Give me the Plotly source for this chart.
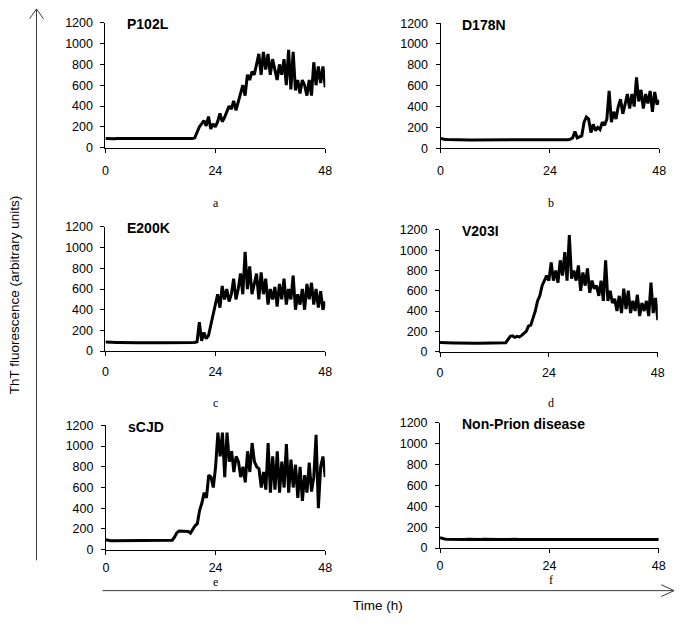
import plotly.graph_objects as go

# ---------------- data (ThT fluorescence, arbitrary units; sampled every 0.5 h, 0..48 h) ----------------
TIME_H = [i * 0.5 for i in range(97)]

P102L = [90, 88, 89, 88, 87, 88, 88, 87, 88, 87, 87, 88, 87, 86, 87, 87, 86, 87, 88, 87,
         86, 86, 87, 86, 86, 87, 86, 86, 85, 86, 86, 85, 86, 86, 85, 86, 85, 86, 88, 95,
         150, 200, 230, 260, 210, 300, 180, 230, 200, 250,
         330, 250, 290, 340, 400, 370, 450, 360, 430, 520,
         600, 500, 700, 650, 730, 700, 800, 900, 700, 920,
         750, 900, 700, 850, 750, 650, 800, 700, 850, 600,
         940, 560, 920, 550, 650, 520, 650, 600, 500, 650,
         500, 820, 600, 780, 620, 780, 580]

D178N = [95, 88, 85, 84, 83, 83, 82, 82, 82, 81, 81, 81, 80, 80, 80, 80, 80, 80, 79, 79,
         79, 79, 79, 79, 79, 78, 78, 78, 78, 78, 78, 78, 78, 78, 78, 78, 78, 78, 78, 78,
         78, 78, 78, 78, 78, 78, 78, 78, 78, 78, 78, 78, 78, 78, 79, 80, 82, 88,
         100, 160, 100, 110, 120, 250, 300, 280, 150, 230,
         170, 200, 180, 250, 220, 280, 550, 250, 350, 280,
         400, 470, 330, 420, 520, 380, 520, 400, 680, 450,
         560, 380, 520, 430, 550, 350, 540, 420, 460]

E200K = [88, 86, 85, 85, 84, 84, 84, 83, 83, 83, 83, 82, 82, 82, 82, 82, 81, 81, 81, 81,
         81, 80, 80, 80, 80, 80, 80, 80, 80, 80, 80, 80, 80, 80, 80, 80, 80, 81, 82, 84, 90,
         280, 100, 180, 120, 150, 250, 350, 450, 550, 420,
         630, 500, 600, 480, 550, 700, 500, 600, 750, 550,
         960, 600, 820, 550, 650, 750, 500, 760, 550, 700,
         450, 600, 500, 620, 430, 650, 500, 700, 450, 600,
         500, 730, 400, 550, 450, 600, 400, 650, 500, 660,
         450, 600, 420, 580, 400, 480]

V203I = [90, 88, 87, 86, 86, 85, 85, 85, 84, 84, 84, 84, 84, 83, 83, 83, 83, 83, 83, 83,
         83, 83, 82, 82, 82, 82, 83, 83, 84, 88,
         120, 150, 155, 140, 150, 145, 160, 180, 200, 250,
         260, 330, 400, 500, 550, 650, 700, 750, 700, 880,
         700, 800, 680, 900, 750, 980, 700, 1150, 720, 800,
         700, 850, 600, 780, 650, 820, 580, 700, 620, 650,
         550, 700, 500, 900, 500, 600, 480, 520, 400, 550,
         380, 620, 420, 600, 380, 500, 400, 560, 350, 480,
         400, 500, 350, 680, 380, 530, 310]

SCJD = [95, 88, 86, 85, 85, 85, 84, 84, 84, 84, 84, 84, 84, 84, 84, 84, 84, 84, 84, 84,
        84, 84, 84, 84, 84, 84, 84, 85, 86, 90,
        120, 160, 180, 180, 182, 178, 175, 160, 200, 230,
        250, 380, 450, 550, 500, 720, 700, 600, 800, 1130,
        900, 1130, 700, 1130, 850, 950, 750, 900, 850, 700,
        800, 650, 950, 750, 1030, 850, 800, 780, 600, 750,
        580, 1030, 550, 900, 580, 950, 550, 850, 600, 1020,
        550, 870, 600, 820, 500, 800, 470, 720, 550, 840,
        560, 700, 1110, 400, 800, 900, 700]

NON_PRION = [100, 92, 88, 86, 85, 85, 84, 84, 84, 84, 84, 83, 84, 83, 83, 84, 83, 83, 83, 84,
             83, 83, 83, 84, 83, 83, 83, 83, 84, 83, 83, 83, 83, 84, 83, 83, 83, 83, 83, 84,
             83, 83, 83, 83, 84, 83, 83, 83, 82, 83, 83, 83, 84, 83, 83, 82, 83, 83, 83, 83,
             83, 82, 83, 83, 83, 82, 83, 83, 82, 83, 83, 82, 83, 82, 83, 83, 82, 82, 83, 82,
             82, 83, 82, 82, 82, 83, 82, 82, 82, 82, 83, 82, 82, 82, 82, 82, 82]

PANEL_TITLES = ["P102L", "D178N", "E200K", "V203I", "sCJD", "Non-Prion disease"]
PANEL_LETTERS = ["a", "b", "c", "d", "e", "f"]
SERIES = [P102L, D178N, E200K, V203I, SCJD, NON_PRION]
X_TICKS = [0, 24, 48]
Y_TICKS = [0, 200, 400, 600, 800, 1000, 1200]
Y_LABEL = "ThT fluorescence (arbitrary units)"
X_LABEL = "Time (h)"

# ---------------- layout geometry (pixels) ----------------
W, H = 684, 625
def px(x):
    return x / W
def py(y):
    return 1 - y / H

# (left, right, top, bottom) of each plot area in pixels
PANEL_BOX = [
    (104, 327, 16, 144),
    (444, 666, 16.5, 144.5),
    (104, 327, 225, 352),
    (443.5, 664.5, 228, 352.5),
    (104.5, 327, 428, 555),
    (443.5, 665.5, 425.5, 553.5),
]
X_STANDOFF = [7, 7, 5, 5, 2, 2]
LETTER_POS = [(216, 201), (556, 201), (216, 405), (556, 405), (216, 588), (556, 586)]

SANS = "Arial, 'Liberation Sans', sans-serif"
SERIF = "'Times New Roman', 'Liberation Serif', serif"

fig = go.Figure()
layout = dict(
    width=W, height=H,
    margin=dict(l=0, r=0, t=0, b=0),
    paper_bgcolor="white", plot_bgcolor="white",
    showlegend=False,
    font=dict(family=SANS, size=12, color="black"),
)
annotations = []
for k, (vals, title, letter) in enumerate(zip(SERIES, PANEL_TITLES, PANEL_LETTERS)):
    sfx = "" if k == 0 else str(k + 1)
    x0, x1, yt, yb = PANEL_BOX[k]
    fig.add_trace(go.Scatter(
        x=TIME_H, y=vals, mode="lines",
        line=dict(color="black", width=3),
        xaxis=f"x{sfx}", yaxis=f"y{sfx}", hoverinfo="skip",
    ))
    layout[f"xaxis{sfx}"] = dict(
        domain=[px(x0), px(x1)], anchor=f"y{sfx}", range=[0, 48],
        tickvals=X_TICKS, ticktext=[str(v) for v in X_TICKS],
        showline=True, linecolor="black", linewidth=1,
        ticks="outside", ticklen=4, tickcolor="black",
        showgrid=False, zeroline=False, tickfont=dict(size=12.5),
        ticklabelstandoff=X_STANDOFF[k],
    )
    layout[f"yaxis{sfx}"] = dict(
        domain=[py(yb), py(yt)], anchor=f"x{sfx}", range=[0, 1200],
        tickvals=Y_TICKS, ticktext=[str(v) for v in Y_TICKS],
        showline=True, linecolor="black", linewidth=1,
        ticks="outside", ticklen=4, tickcolor="black",
        showgrid=False, zeroline=False, tickfont=dict(size=12.5),
        ticklabelstandoff=5,
    )
    annotations.append(dict(
        text=f"<b>{title}</b>", xref=f"x{sfx} domain", yref=f"y{sfx} domain",
        x=20 / (x1 - x0), y=1, xanchor="left", yanchor="middle", yshift=-1.5,
        showarrow=False, font=dict(family=SANS, size=14, color="black"),
    ))
    lx, ly = LETTER_POS[k]
    annotations.append(dict(
        text=letter, xref="paper", yref="paper", x=px(lx), y=py(ly),
        xanchor="center", yanchor="middle", showarrow=False,
        font=dict(family=SERIF, size=12, color="black"),
    ))

annotations.append(dict(
    text=Y_LABEL, xref="paper", yref="paper", x=px(12), y=py(294),
    xanchor="center", yanchor="middle", textangle=-90, showarrow=False,
    font=dict(family=SANS, size=13.5, color="black"),
))
annotations.append(dict(
    text=X_LABEL, xref="paper", yref="paper", x=px(381), y=py(612),
    xanchor="center", yanchor="middle", showarrow=False,
    font=dict(family=SANS, size=13.5, color="black"),
))
layout["annotations"] = annotations

ARROW = dict(color="#3a3a3a", width=1)
shapes = [
    # vertical arrow (y label)
    dict(type="line", xref="paper", yref="paper", x0=px(34), x1=px(34), y0=py(566), y1=py(2), line=ARROW),
    dict(type="line", xref="paper", yref="paper", x0=px(34), x1=px(27), y0=py(2), y1=py(12), line=ARROW),
    dict(type="line", xref="paper", yref="paper", x0=px(34), x1=px(41), y0=py(2), y1=py(12), line=ARROW),
    # horizontal arrow (time)
    dict(type="line", xref="paper", yref="paper", x0=px(101), x1=px(681), y0=py(597), y1=py(597), line=ARROW),
    dict(type="line", xref="paper", yref="paper", x0=px(681), x1=px(668), y0=py(597), y1=py(591), line=ARROW),
    dict(type="line", xref="paper", yref="paper", x0=px(681), x1=px(668), y0=py(597), y1=py(603), line=ARROW),
]
layout["shapes"] = shapes

fig.update_layout(**layout)
fig.write_html(
    "out.html",
    config={"displayModeBar": False},
    post_script="document.documentElement.style.margin='0';document.body.style.margin='0';document.body.style.overflow='hidden';",
)
